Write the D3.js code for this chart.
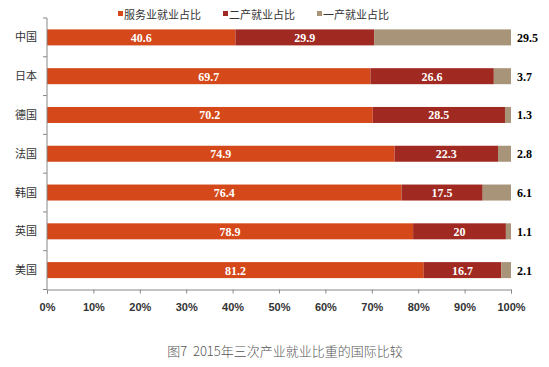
<!DOCTYPE html>
<html>
<head>
<meta charset="utf-8">
<script src="https://cdn.jsdelivr.net/npm/d3@7"></script>
<style>
  body { margin: 0; background: #fff; }
  svg { display: block; }
</style>
</head>
<body>
<div id="chart"></div>
<script>
// data
const countries = ["中国", "日本", "德国", "法国", "韩国", "英国", "美国"];
const services  = [40.6, 69.7, 70.2, 74.9, 76.4, 78.9, 81.2];
const secondary = [29.9, 26.6, 28.5, 22.3, 17.5, 20, 16.7];
const primary   = [29.5, 3.7, 1.3, 2.8, 6.1, 1.1, 2.1];
const seriesNames = ["服务业就业占比", "二产就业占比", "一产就业占比"];
const xTicks = [0, 10, 20, 30, 40, 50, 60, 70, 80, 90, 100];

const colors = ["#d4481a", "#a02a22", "#a89478"];
const width = 549, height = 367;

const svg = d3.select("#chart").append("svg")
  .attr("width", width)
  .attr("height", height);

const x = d3.scaleLinear().domain([0, 100]).range([47, 511]);
const y = d3.scaleBand().domain(countries).range([18, 289.5]);
const barH = 16;

const rows = countries.map((c, i) => {
  const vals = [services[i], secondary[i], primary[i]];
  let acc = 0;
  return {
    country: c,
    segs: vals.map((v, k) => {
      const s = { k: k, v: v, x0: acc, x1: acc + v };
      acc += v;
      return s;
    })
  };
});

// bars
const row = svg.selectAll("g.row")
  .data(rows)
  .enter()
  .append("g")
  .attr("class", "row")
  .attr("transform", d => "translate(0," + (y(d.country) + y.bandwidth() / 2 - barH / 2) + ")");

row.selectAll("rect")
  .data(d => d.segs)
  .enter()
  .append("rect")
  .attr("x", d => x(d.x0))
  .attr("width", d => x(d.x1) - x(d.x0))
  .attr("height", barH)
  .style("fill", d => colors[d.k]);

// labels inside the first two segments
row.selectAll("text.in")
  .data(d => d.segs.filter(s => s.k < 2))
  .enter()
  .append("text")
  .attr("class", "in")
  .attr("x", d => (x(d.x0) + x(d.x1)) / 2)
  .attr("y", barH / 2 + 4.5)
  .attr("text-anchor", "middle")
  .style("font-family", "'Liberation Serif', 'Times New Roman', serif")
  .style("font-weight", "bold")
  .style("font-size", "12px")
  .style("fill", "#fff")
  .text(d => d.v);

// primary-sector value outside, to the right
row.append("text")
  .attr("x", x(100) + 6)
  .attr("y", barH / 2 + 4.5)
  .style("font-family", "'Liberation Serif', 'Times New Roman', serif")
  .style("font-weight", "bold")
  .style("font-size", "12px")
  .style("fill", "#000")
  .text(d => d.segs[2].v);

// y axis
const yAxis = svg.append("g")
  .attr("transform", "translate(" + x(0) + ",0)");
yAxis.append("line")
  .attr("y1", y.range()[0]).attr("y2", y.range()[1])
  .style("stroke", "#888");
yAxis.selectAll("line.tick")
  .data(d3.range(countries.length + 1))
  .enter()
  .append("line")
  .attr("class", "tick")
  .attr("x1", -4).attr("x2", 0)
  .attr("y1", i => y.range()[0] + i * y.step())
  .attr("y2", i => y.range()[0] + i * y.step())
  .style("stroke", "#888");
yAxis.selectAll("text")
  .data(countries)
  .enter()
  .append("text")
  .attr("x", -10)
  .attr("y", d => y(d) + y.bandwidth() / 2 + 4)
  .attr("text-anchor", "end")
  .style("font-family", "'Noto Sans CJK SC', sans-serif")
  .style("font-size", "11px")
  .style("fill", "#333")
  .text(d => d);

// x axis
const xAxis = svg.append("g")
  .attr("transform", "translate(0," + y.range()[1] + ")")
  .call(d3.axisBottom(x).tickValues(xTicks).tickSize(4).tickPadding(10).tickFormat(d => d + "%"));
xAxis.select(".domain").attr("stroke", "#888");
xAxis.selectAll(".tick line").attr("stroke", "#888");
xAxis.selectAll(".tick text")
  .style("font-family", "'Liberation Sans', Arial, sans-serif")
  .style("font-weight", "bold")
  .style("font-size", "11px")
  .style("fill", "#333");

// legend
const legendX = [118, 223, 317];
const legend = svg.selectAll("g.legend")
  .data(seriesNames)
  .enter()
  .append("g")
  .attr("class", "legend")
  .attr("transform", (d, i) => "translate(" + legendX[i] + ",15)");
legend.append("rect")
  .attr("x", 0).attr("y", -4)
  .attr("width", 5).attr("height", 5)
  .style("fill", (d, i) => colors[i]);
legend.append("text")
  .attr("x", 6)
  .attr("y", 4)
  .style("font-family", "'Noto Sans CJK SC', sans-serif")
  .style("font-size", "11px")
  .style("fill", "#333")
  .text(d => d);

// caption
svg.append("text")
  .attr("x", 285)
  .attr("y", 356)
  .attr("text-anchor", "middle")
  .style("white-space", "pre")
  .style("font-family", "'Noto Sans CJK SC', sans-serif")
  .style("font-weight", "300")
  .style("font-size", "13px")
  .style("fill", "#555")
  .text("图7  2015年三次产业就业比重的国际比较");
</script>
</body>
</html>
